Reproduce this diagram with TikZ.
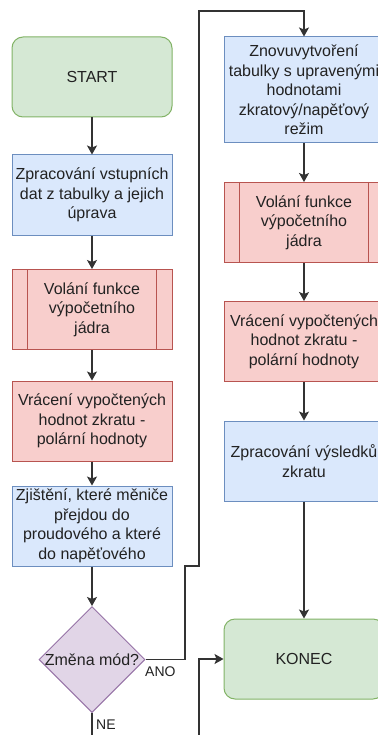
\documentclass[tikz,border=0pt]{standalone}
\usepackage{fontspec}
\setmainfont{Liberation Sans}
\usetikzlibrary{arrows.meta,shapes.geometric}

\definecolor{txt}{HTML}{222222}
\definecolor{ln}{HTML}{333333}
\definecolor{gfill}{HTML}{D5E8D4}\definecolor{gdraw}{HTML}{82B366}
\definecolor{bfill}{HTML}{DAE8FC}\definecolor{bdraw}{HTML}{6C8EBF}
\definecolor{rfill}{HTML}{F8CECC}\definecolor{rdraw}{HTML}{B85450}
\definecolor{pfill}{HTML}{E1D5E7}\definecolor{pdraw}{HTML}{9673A6}

\tikzset{
  box/.style={draw, line width=1pt, minimum width=160pt, minimum height=80pt,
    inner sep=2pt, align=center, text=txt,
    font=\fontsize{16pt}{19.5pt}\selectfont},
  terminal/.style={box, fill=gfill, draw=gdraw, rounded corners=11pt},
  action/.style={box, fill=bfill, draw=bdraw},
  result/.style={box, fill=rfill, draw=rdraw},
  subproc/.style={box, fill=rfill, draw=rdraw},
  choice/.style={diamond, draw=pdraw, fill=pfill, line width=1pt, aspect=1,
    minimum width=106pt, minimum height=106pt, inner sep=0pt, text=txt,
    font=\fontsize{16pt}{19.5pt}\selectfont},
  flow/.style={draw=ln, line width=1.3pt,
    -{Stealth[length=9pt,width=10pt,inset=2pt]}},
  plain/.style={draw=ln, line width=1.3pt},
  edgelabel/.style={text=txt, font=\fontsize{14pt}{16pt}\selectfont, inner sep=0pt}
}

\begin{document}
\begin{tikzpicture}[x=1pt,y=-1pt]
\useasboundingbox (0,0) rectangle (377,735);
\fill[white] (0,0) rectangle (377,735);

% left column
\node[terminal] (start) at (92,77) {START};
\node[action] (prep) at (92,195) {Zpracování vstupních\\dat z tabulky a jejich\\úprava};
\node[subproc] (call1) at (92,309.5) {Volání funkce\\výpočetního\\jádra};
\node[result] (ret1) at (92,421) {Vrácení vypočtených\\hodnot zkratu -\\polární hodnoty};
\node[action] (detect) at (92,526) {Zjištění, které měniče\\přejdou do\\proudového a které\\do napěťového};
\node[choice] (dec) at (92,659.5) {};
\node[text=txt, font=\fontsize{16pt}{19.5pt}\selectfont, inner sep=0pt] (declabel) at (92,660) {Změna mód?};

% right column
\node[action, minimum height=106pt] (rebuild) at (304,90) {Znovuvytvoření\\tabulky s upravenými\\hodnotami\\zkratový/napěťový\\režim};
\node[subproc] (call2) at (304,222.5) {Volání funkce\\výpočetního\\jádra};
\node[result] (ret2) at (304,341.5) {Vrácení vypočtených\\hodnot zkratu -\\polární hodnoty};
\node[action] (post) at (304,461) {Zpracování výsledků\\zkratu};
\node[terminal] (konec) at (304,659) {KONEC};

% side bars of the predefined-process boxes
\foreach \p in {call1,call2}{
  \draw[rdraw, line width=1pt] ([xshift=16pt]\p.north west) -- ([xshift=16pt]\p.south west);
  \draw[rdraw, line width=1pt] ([xshift=-16pt]\p.north east) -- ([xshift=-16pt]\p.south east);
}

% free ends of the edges leaving the page
\coordinate (neend) at (92,740);
\coordinate (backin) at (199,740);

% connectors
\draw[flow] (start) -- (prep);
\draw[flow] (prep) -- (call1);
\draw[flow] (call1) -- (ret1);
\draw[flow] (ret1) -- (detect);
\draw[flow] (detect) -- (dec);
\draw[flow] (dec.east) -- (185,659.5) -- (185,566) -- (199,566) -- (199,11) -- (304,11) -- (rebuild.north);
\draw[plain] (dec.south) -- (neend);
\draw[flow] (rebuild) -- (call2);
\draw[flow] (call2) -- (ret2);
\draw[flow] (ret2) -- (post);
\draw[flow] (post) -- (konec);
\draw[flow] (backin) -- (199,659) -- (konec.west);

% branch labels
\node[edgelabel, anchor=north west] (ano) at (145,667) {ANO};
\node[edgelabel, anchor=north west] (ne) at (96,720) {NE};
\end{tikzpicture}
\end{document}
